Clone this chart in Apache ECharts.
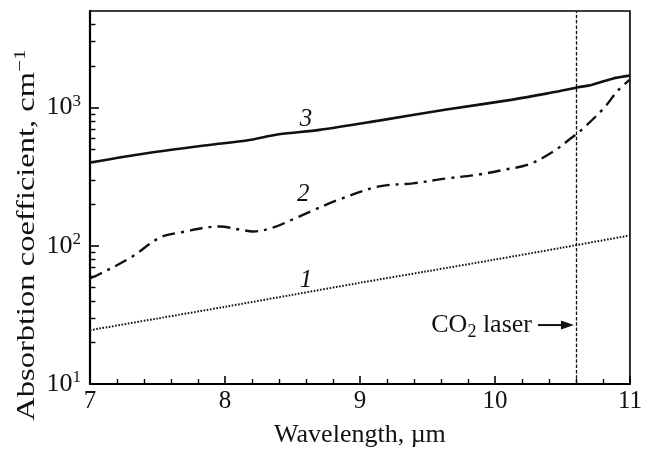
<!DOCTYPE html>
<html>
<head>
<meta charset="utf-8">
<script src="https://cdn.jsdelivr.net/npm/echarts@6/dist/echarts.min.js"></script>
<style>
html,body{margin:0;padding:0;background:#fff;}
#chart{width:645px;height:453px;}
</style>
</head>
<body>
<div id="chart"></div>
<script>
// Wavelength (µm) / absorption coefficient (cm^-1)
var curve1X = [7.0, 7.5, 8.0, 8.5, 9.0, 9.5, 10.0, 10.5, 11.0];
var curve1Y = [24.5, 29.8, 36.2, 44.2, 54, 65.5, 79.5, 97, 119];

var curve2X = [7.0, 7.05, 7.3, 7.52, 7.67, 7.96, 8.11, 8.21, 8.36, 8.5, 8.65, 8.85, 9.14, 9.39, 9.64, 9.88, 10.08, 10.25, 10.42, 10.57, 10.66, 10.81, 10.91, 11.0];
var curve2Y = [58, 61, 82, 115, 125, 138, 131, 127, 136, 155, 180, 217, 269, 283, 307, 328, 357, 388, 473, 607, 717, 1000, 1327, 1592];

var curve3X = [7.0, 7.42, 7.91, 8.16, 8.4, 8.7, 9.14, 9.64, 10.13, 10.38, 10.6, 10.72, 10.87, 11.0];
var curve3Y = [401, 468, 541, 578, 641, 690, 805, 968, 1142, 1262, 1394, 1466, 1620, 1703];

var xTicks = [7, 8, 9, 10, 11];
var yMajor = [10, 100, 1000];
var yMinor = [20, 30, 40, 50, 60, 70, 80, 90, 200, 300, 400, 500, 600, 700, 800, 900, 2000, 3000, 4000];
var laserX = 10.6;

function pairs(xs, ys) { return xs.map(function (x, i) { return [x, ys[i]]; }); }

var FONT = "'Liberation Serif', 'Times New Roman', serif";
var chart = echarts.init(document.getElementById('chart'));

chart.setOption({
  animation: false,
  backgroundColor: '#fff',
  grid: {left: 90, right: 14, top: 11, bottom: 66, show: true, borderColor: '#000', borderWidth: 1.6, backgroundColor: 'transparent'},
  xAxis: {
    type: 'value', min: 7, max: 11, interval: 1,
    name: 'Wavelength, µm', nameLocation: 'middle', nameGap: 38,
    nameTextStyle: {fontFamily: FONT, fontSize: 26, color: '#111'},
    axisLine: {show: true, lineStyle: {color: '#000', width: 2.2}},
    axisTick: {show: true, inside: true, length: 8, lineStyle: {color: '#000', width: 1.6}},
    minorTick: {show: true, splitNumber: 5, length: 5, lineStyle: {color: '#000', width: 1.4}},
    axisLabel: {fontFamily: FONT, fontSize: 25, color: '#111', margin: 5},
    splitLine: {show: false}
  },
  yAxis: [{
    type: 'log', logBase: 10, min: 10, max: 5000,
    axisLine: {show: true, lineStyle: {color: '#000', width: 2.2}},
    axisTick: {show: true, inside: true, length: 9, customValues: yMajor, lineStyle: {color: '#000', width: 1.6}},
    axisLabel: {
      customValues: yMajor, margin: 9, fontFamily: FONT, fontSize: 26, color: '#111',
      formatter: function (v) { var k = Math.round(Math.log10(v)); return '10{sup|' + k + '}'; },
      rich: {sup: {fontFamily: FONT, fontSize: 17, color: '#111', padding: [0, 0, 13, 0]}}
    },
    splitLine: {show: false}
  }, {
    type: 'log', logBase: 10, min: 10, max: 5000, position: 'left',
    axisLine: {show: false},
    axisTick: {show: true, inside: true, length: 5.5, customValues: yMinor, lineStyle: {color: '#000', width: 1.4}},
    axisLabel: {show: false},
    splitLine: {show: false}
  }],
  series: [{
    name: '1', type: 'line', data: pairs(curve1X, curve1Y), showSymbol: false, smooth: 0.3,
    lineStyle: {color: '#111', width: 2, type: [1.6, 1.6]}
  }, {
    name: '2', type: 'line', data: pairs(curve2X, curve2Y), showSymbol: false, smooth: 0.35,
    lineStyle: {color: '#111', width: 2.4, type: [13, 6, 3, 6]}
  }, {
    name: '3', type: 'line', data: pairs(curve3X, curve3Y), showSymbol: false, smooth: 0.3,
    lineStyle: {color: '#111', width: 2.6},
    markLine: {
      silent: true, symbol: 'none', animation: false,
      label: {show: false},
      lineStyle: {color: '#111', width: 1.3, type: [3.5, 1.8]},
      data: [{xAxis: laserX}]
    }
  }]
});

function px(x, y) { return chart.convertToPixel({xAxisIndex: 0, yAxisIndex: 0}, [x, y]); }

var pArrow = px(laserX, 26.7);
var p3 = px(8.6, 818), p2 = px(8.58, 235), p1 = px(8.6, 56);
var labelStyle = {fontFamily: FONT, fontSize: 25, fontStyle: 'italic', fill: '#111', align: 'center', verticalAlign: 'middle'};

chart.setOption({
  graphic: [
    {type: 'text', x: 27, y: 235, rotation: Math.PI / 2, scaleX: 1.25, style: {
      text: 'Absorbtion coefficient, cm{sup|−1}', fontFamily: FONT, fontSize: 26, fill: '#111', align: 'center', verticalAlign: 'middle',
      rich: {sup: {fontFamily: FONT, fontSize: 17, fill: '#111', padding: [0, 0, 13, 0]}}
    }},
    {type: 'text', x: p3[0], y: p3[1], style: Object.assign({text: '3'}, labelStyle)},
    {type: 'text', x: p2[0], y: p2[1], style: Object.assign({text: '2'}, labelStyle)},
    {type: 'text', x: p1[0], y: p1[1], style: Object.assign({text: '1'}, labelStyle)},
    {type: 'text', x: pArrow[0] - 44, y: pArrow[1], style: {
      text: 'CO{sub|2} laser', fontFamily: FONT, fontSize: 26, fill: '#111', align: 'right', verticalAlign: 'middle',
      rich: {sub: {fontFamily: FONT, fontSize: 18, fill: '#111', padding: [15, 0, 0, 0]}}
    }},
    {type: 'line', shape: {x1: pArrow[0] - 38, y1: pArrow[1], x2: pArrow[0] - 12, y2: pArrow[1]}, style: {stroke: '#111', lineWidth: 2}},
    {type: 'polygon', shape: {points: [[pArrow[0] - 2, pArrow[1]], [pArrow[0] - 15, pArrow[1] - 4.5], [pArrow[0] - 15, pArrow[1] + 4.5]]}, style: {fill: '#111'}}
  ]
});
</script>
</body>
</html>
